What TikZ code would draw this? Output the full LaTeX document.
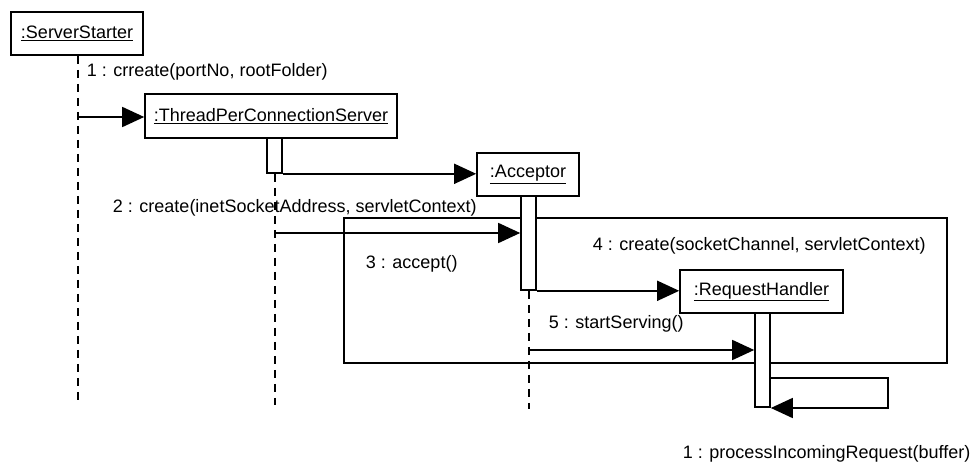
\documentclass[tikz,border=0pt]{standalone}
\usepackage{fontspec}
\setmainfont{Liberation Sans}
\usetikzlibrary{arrows.meta}
\begin{document}
\begin{tikzpicture}[x=1pt,y=-1pt,
  font=\fontsize{18}{20}\selectfont,
  every path/.style={line width=1.6pt},
  obj/.style={draw,fill=white,inner sep=0pt,line width=1.6pt},
  act/.style={draw,fill=white,inner sep=0pt,minimum width=15pt,line width=1.6pt},
  life/.style={dash pattern=on 8pt off 6pt,line width=1.6pt},
  msg/.style={-{Triangle[length=22pt,width=20pt]},line width=1.6pt},
  lbl/.style={anchor=base west,inner sep=0pt}]
\useasboundingbox (0,0) rectangle (973,462);

% interaction frame
\draw[line width=1.6pt] (344,218) rectangle (947,363);

% objects
\node[obj,minimum width=132pt,minimum height=43pt] (ss) at (77,33.5) {\underline{:ServerStarter}};
\node[obj,minimum width=252pt,minimum height=44pt] (tpcs) at (271,116) {\underline{:ThreadPerConnectionServer}};
\node[obj,minimum width=102pt,minimum height=43pt] (acc) at (528,174.5) {\underline{:Acceptor}};
\node[obj,minimum width=163pt,minimum height=43pt] (rh) at (761.5,291.5) {\underline{:RequestHandler}};

% activations
\node[act,minimum height=35pt] (tpcsact) at (274.5,155.5) {};
\node[act,minimum height=94pt] (accact) at (528.5,243) {};
\node[act,minimum height=94pt] (rhact) at (762.5,360) {};

% lifeline ends and message anchors
\coordinate (ssend) at (78,405);
\coordinate (tpcsend) at (275,405);
\coordinate (accend) at (529,409);
\coordinate (m1) at (78,117);
\coordinate (m2) at (275,233);
\coordinate (m5) at (529,350);
\coordinate (selfa) at (888,378);
\coordinate (selfb) at (888,408);

% lifelines
\draw[life] (ss.south -| ssend) -- (ssend);
\draw[life] (tpcsact.south -| tpcsend) -- (tpcsend);
\draw[life] (accact.south -| accend) -- (accend);

% messages
\draw[msg] (m1) -- (m1 -| tpcs.west);
\draw[msg] (tpcsact.south east) -- (tpcsact.south east -| acc.west);
\draw[msg] (m2) -- (m2 -| accact.west);
\draw[msg] (accact.south east) -- (accact.south east -| rh.west);
\draw[msg] (m5) -- (m5 -| rhact.west);
\draw[msg] (selfa -| rhact.east) -- (selfa) -- (selfb) -- (selfb -| rhact.east);

% labels
\node[lbl] (l1) at (86,77) {1 : crreate(portNo, rootFolder)};
\node[lbl] (l2) at (112,213) {2 : create(inetSocketAddress, servletContext)};
\node[lbl] (l3) at (365,268) {3 : accept()};
\node[lbl] (l4) at (592,250) {4 : create(socketChannel, servletContext)};
\node[lbl] (l5) at (548,328) {5 : startServing()};
\node[lbl] (l6) at (682,458) {1 : processIncomingRequest(buffer)};
\end{tikzpicture}
\end{document}
